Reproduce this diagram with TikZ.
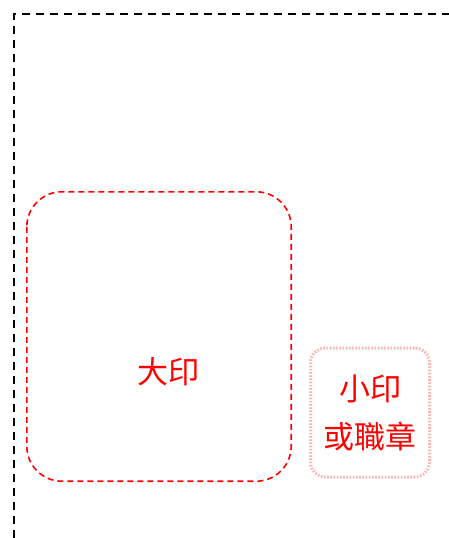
\documentclass[tikz,border=0pt]{standalone}
\usepackage{fontspec}
\newfontfamily\cjk{Noto Sans CJK TC}
\definecolor{sealred}{RGB}{255,0,0}
\definecolor{palered}{RGB}{255,180,180}
\begin{document}
\begin{tikzpicture}[x=1pt,y=-1pt,
  frameline/.style={draw=black,line width=1.5pt,dash pattern=on 8pt off 6pt},
  bigseal/.style={draw=sealred,line width=1.6pt,dash pattern=on 6pt off 4pt,rounded corners=35pt},
  smallseal/.style={draw=palered,line width=3pt,dash pattern=on 1.6pt off 1.6pt,rounded corners=15pt,
    minimum width=119pt,minimum height=129pt,inner sep=0pt,align=center,text=sealred,
    font=\cjk\fontsize{31pt}{48pt}\selectfont},
  sealtext/.style={text=sealred,font=\cjk\fontsize{31pt}{36pt}\selectfont,inner sep=0pt}]
\useasboundingbox (0,0) rectangle (449,538);
\coordinate (fb) at (14,538);
\coordinate (fc) at (14,14);
\coordinate (fr) at (449,14);
\draw[frameline] (fb) -- (fc) -- (fr);
\node[draw=none,minimum width=264pt,minimum height=289pt,inner sep=0pt] (big) at (159,336.5) {};
\draw[bigseal] (big.north west) rectangle (big.south east);
\node[sealtext] (bigtext) at (168,372) {大印};
\node[smallseal] (small) at (370,412.5) {小印\\或職章};
\end{tikzpicture}
\end{document}
